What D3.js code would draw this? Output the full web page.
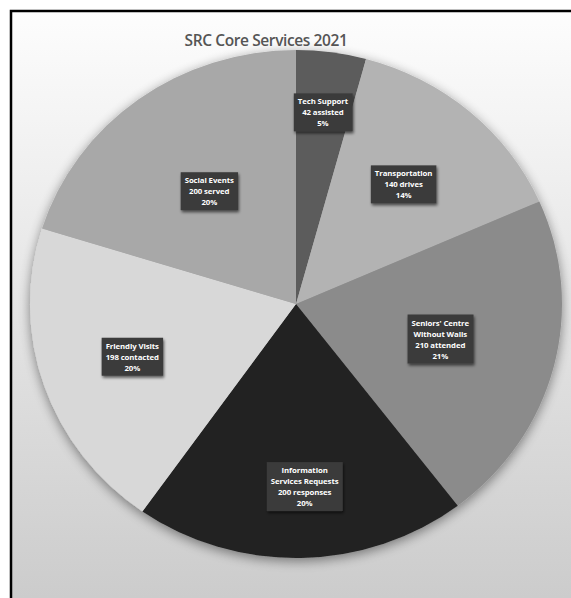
<!DOCTYPE html>
<html><head><meta charset="utf-8">
<script src="https://cdn.jsdelivr.net/npm/d3@7"></script>
<style>html,body{margin:0;padding:0;background:#fff;}svg{display:block;}</style>
</head><body>
<script>
const categories = ["Tech Support","Transportation","Seniors' Centre Without Walls","Information Services Requests","Friendly Visits","Social Events"];
const values = [42,140,210,200,198,200];
const valueLabels = ["42 assisted","140 drives","210 attended","200 responses","198 contacted","200 served"];
const percentLabels = ["5%","14%","21%","20%","20%","20%"];
const labelLines = [["Tech Support"],["Transportation"],["Seniors' Centre","Without Walls"],["Information","Services Requests"],["Friendly Visits"],["Social Events"]];
const colors = ["#5b5b5b","#b3b3b3","#8b8b8b","#222222","#d8d8d8","#a8a8a8"];
const title = "SRC Core Services 2021";

const W=571,H=598;
const svg=d3.select("body").append("svg").attr("width",W).attr("height",H);
const defs=svg.append("defs");
const lg=defs.append("linearGradient").attr("id","bg").attr("x1",0).attr("y1",0).attr("x2",0).attr("y2",1);
lg.append("stop").attr("offset","0%").attr("stop-color","#fdfdfd");
lg.append("stop").attr("offset","100%").attr("stop-color","#cbcbcb");
const f=defs.append("filter").attr("id","sh").attr("x","-20%").attr("y","-20%").attr("width","140%").attr("height","140%");
f.append("feGaussianBlur").attr("in","SourceAlpha").attr("stdDeviation",6);
f.append("feOffset").attr("dx",0).attr("dy",3).attr("result","b");
f.append("feComponentTransfer").append("feFuncA").attr("type","linear").attr("slope",0.45);
const fm=f.append("feMerge");fm.append("feMergeNode");fm.append("feMergeNode").attr("in","SourceGraphic");
const f2=defs.append("filter").attr("id","sh2").attr("x","-20%").attr("y","-20%").attr("width","140%").attr("height","140%");
f2.append("feGaussianBlur").attr("in","SourceAlpha").attr("stdDeviation",1.5);
f2.append("feOffset").attr("dx",1).attr("dy",1.5);
f2.append("feComponentTransfer").append("feFuncA").attr("type","linear").attr("slope",0.6);
const fm2=f2.append("feMerge");fm2.append("feMergeNode");fm2.append("feMergeNode").attr("in","SourceGraphic");

svg.append("rect").attr("x",11).attr("y",11).attr("width",W).attr("height",H).attr("fill","url(#bg)").attr("stroke","#000").attr("stroke-width",2.5);

svg.append("text").attr("x",266).attr("y",46).attr("text-anchor","middle")
  .attr("font-family","'Open Sans', sans-serif").attr("font-weight",600).attr("font-size",15.5)
  .attr("fill","#555").attr("letter-spacing","-0.4").text(title);

const cx=296,cy=304,r=266,sy=0.955;
const pie=d3.pie().sort(null).value(d=>d)(values);
const arc=d3.arc().innerRadius(0).outerRadius(r);
const g=svg.append("g").attr("transform",`translate(${cx},${cy}) scale(1,${sy})`).attr("filter","url(#sh)");
g.selectAll("path").data(pie).join("path").attr("d",arc).attr("fill",(d,i)=>colors[i]);

const labelR=[0.76,0.62,0.56,0.72,0.65,0.55];
const lh=11;
pie.forEach((d,i)=>{
  const a=(d.startAngle+d.endAngle)/2;
  const rr=r*labelR[i];
  const x=cx+Math.sin(a)*rr+(i===3?5:0), y=cy-Math.cos(a)*rr*sy;
  const lines=labelLines[i].concat([valueLabels[i],percentLabels[i]]);
  const lgp=svg.append("g").attr("transform",`translate(${x},${y})`);
  const t=lgp.append("text").attr("text-anchor","middle").attr("font-family","'Open Sans', sans-serif")
    .attr("font-weight",700).attr("font-size",7.8).attr("fill","#fff").attr("letter-spacing","-0.1");
  const h0=-(lines.length-1)*lh/2;
  lines.forEach((s,k)=>t.append("tspan").attr("x",0).attr("y",h0+k*lh).attr("dy","0.35em").text(s));
  const bb=t.node().getBBox();
  lgp.insert("rect","text").attr("x",bb.x-4).attr("y",bb.y-3).attr("width",bb.width+8).attr("height",bb.height+6)
    .attr("fill","#3b3b3b").attr("filter","url(#sh2)");
});
</script>
</body></html>
